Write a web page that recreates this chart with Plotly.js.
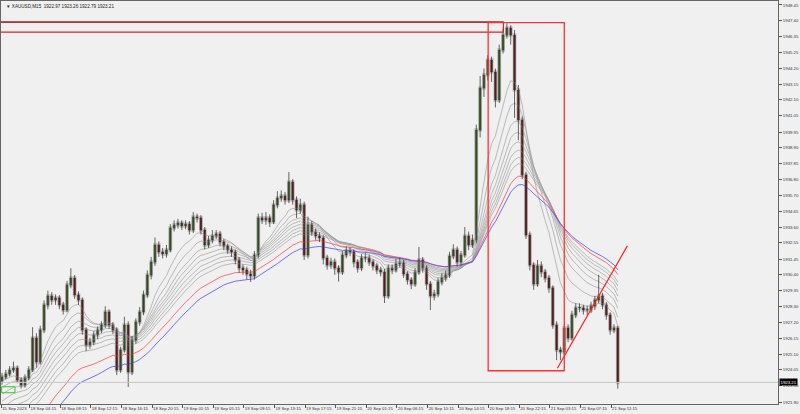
<!DOCTYPE html>
<html><head><meta charset="utf-8">
<script src="https://cdn.plot.ly/plotly-3.0.1.min.js"></script>
<style>html,body{margin:0;padding:0;background:#f0f0f0;}#chart{width:800px;height:414px;}</style>
</head><body><div id="chart"></div>
<script>
// ---- data (30-minute candles) ----
const symbolTitle = "XAUUSD,M15  1922.97 1923.26 1922.79 1923.21";
const opens = [1923.30,1923.57,1923.77,1924.04,1924.17,1923.37,1923.04,1923.51,1924.04,1926.18,
1924.58,1926.72,1928.39,1928.99,1928.72,1928.86,1928.39,1928.05,1929.73,1930.19,
1929.06,1928.72,1926.72,1925.71,1925.91,1926.38,1926.72,1927.05,1927.92,1927.05,
1926.72,1924.04,1925.38,1927.05,1923.91,1926.05,1927.25,1927.92,1929.06,1930.39,
1931.26,1932.40,1931.93,1931.80,1932.07,1933.54,1933.74,1933.87,1933.67,1933.80,
1933.40,1934.27,1934.21,1933.40,1932.40,1932.73,1933.00,1933.14,1932.60,1932.33,
1932.07,1931.93,1931.40,1930.86,1930.73,1930.46,1930.33,1931.73,1934.21,1934.07,
1934.21,1933.94,1935.08,1935.54,1935.68,1935.41,1936.61,1935.41,1934.74,1935.08,
1931.73,1933.74,1933.27,1933.00,1932.87,1931.53,1931.06,1931.26,1930.86,1930.59,
1931.73,1932.00,1931.93,1931.26,1930.86,1931.53,1931.53,1931.26,1931.00,1930.73,
1930.59,1928.99,1930.86,1930.73,1931.13,1931.20,1930.46,1930.06,1929.79,1930.59,
1931.40,1930.86,1929.79,1928.99,1929.12,1929.93,1930.19,1930.39,1931.66,1932.07,
1931.26,1931.73,1933.00,1932.40,1932.73,1940.09,1942.90,1943.77,1944.77,1943.97,
1942.10,1945.44,1946.44,1946.91,1946.44,1942.77,1940.76,1937.08,1933.07,1931.06,
1929.79,1931.00,1930.59,1930.19,1929.53,1927.05,1925.38,1925.25,1926.85,1926.18,
1927.72,1928.19,1928.19,1928.05,1928.05,1928.32,1928.72,1928.99,1928.39,1927.72,
1926.72,1926.85];
const closes = [1923.57,1923.77,1924.04,1924.17,1923.37,1923.04,1923.51,1924.04,1926.18,1924.58,
1926.72,1928.39,1928.99,1928.72,1928.86,1928.39,1928.05,1929.73,1930.19,1929.06,
1928.72,1926.72,1925.71,1925.91,1926.38,1926.72,1927.05,1927.92,1927.05,1926.72,
1924.04,1925.38,1927.05,1923.91,1926.05,1927.25,1927.92,1929.06,1930.39,1931.26,
1932.40,1931.93,1931.80,1932.07,1933.54,1933.74,1933.87,1933.67,1933.80,1933.40,
1934.27,1934.21,1933.40,1932.40,1932.73,1933.00,1933.14,1932.60,1932.33,1932.07,
1931.93,1931.40,1930.86,1930.73,1930.46,1930.33,1931.73,1934.21,1934.07,1934.21,
1933.94,1935.08,1935.54,1935.68,1935.41,1936.61,1935.41,1934.74,1935.08,1931.73,
1933.74,1933.27,1933.00,1932.87,1931.53,1931.06,1931.26,1930.86,1930.59,1931.73,
1932.00,1931.93,1931.26,1930.86,1931.53,1931.53,1931.26,1931.00,1930.73,1930.59,
1928.99,1930.86,1930.73,1931.13,1931.20,1930.46,1930.06,1929.79,1930.59,1931.40,
1930.86,1929.79,1928.99,1929.12,1929.93,1930.19,1930.39,1931.66,1932.07,1931.26,
1931.73,1933.00,1932.40,1932.73,1940.09,1942.90,1943.77,1944.77,1943.97,1942.10,
1945.44,1946.44,1946.91,1946.44,1942.77,1940.76,1937.08,1933.07,1931.06,1929.79,
1931.00,1930.59,1930.19,1929.53,1927.05,1925.38,1925.25,1926.85,1926.18,1927.72,
1928.19,1928.19,1928.05,1928.05,1928.32,1928.72,1928.99,1928.39,1927.72,1926.72,
1926.85,1923.21];
const highs = [1923.85,1924.05,1924.30,1924.60,1924.35,1923.55,1923.75,1924.30,1926.90,1926.50,
1927.00,1928.70,1929.35,1929.25,1929.10,1929.05,1928.60,1930.00,1930.85,1930.40,
1929.30,1928.90,1926.90,1926.20,1926.65,1926.95,1927.30,1928.30,1928.10,1927.25,
1926.90,1925.60,1927.60,1927.30,1926.30,1927.50,1928.25,1929.35,1930.70,1931.60,
1932.90,1932.65,1932.20,1932.40,1933.80,1934.05,1934.15,1934.05,1934.05,1934.00,
1934.60,1934.50,1934.40,1933.60,1933.00,1933.40,1933.40,1933.35,1932.80,1932.50,
1932.30,1932.10,1931.60,1931.10,1930.95,1930.75,1932.00,1934.50,1934.55,1934.60,
1934.45,1935.40,1936.00,1936.05,1935.95,1937.28,1936.80,1935.65,1935.50,1935.30,
1934.30,1934.00,1933.50,1933.25,1933.05,1931.75,1931.55,1931.50,1931.05,1932.00,
1932.30,1932.25,1932.10,1931.45,1931.80,1931.85,1931.75,1931.45,1931.20,1930.95,
1930.80,1931.10,1931.10,1931.45,1931.55,1931.40,1930.65,1930.25,1930.85,1932.27,
1931.60,1931.05,1930.00,1929.40,1930.20,1930.50,1930.70,1931.95,1932.45,1932.30,
1932.00,1933.60,1933.30,1933.10,1940.45,1943.70,1944.20,1945.10,1945.00,1944.20,
1945.80,1946.90,1947.23,1947.10,1946.78,1943.10,1941.00,1937.30,1933.30,1931.25,
1931.40,1931.30,1930.80,1930.40,1929.70,1927.30,1925.60,1927.10,1927.10,1928.00,
1928.50,1928.50,1928.40,1928.35,1928.60,1929.00,1930.40,1929.20,1928.60,1927.90,
1927.10,1927.00];
const lows = [1923.05,1923.40,1923.60,1923.85,1923.15,1922.80,1922.85,1923.35,1923.90,1924.20,
1924.40,1926.50,1928.10,1928.40,1928.40,1928.10,1927.75,1927.90,1929.50,1928.80,
1928.40,1926.40,1925.30,1925.45,1925.70,1926.10,1926.50,1926.85,1926.80,1926.45,
1923.70,1923.85,1925.20,1922.90,1923.70,1925.80,1927.00,1927.70,1928.85,1930.10,
1931.00,1931.60,1931.50,1931.55,1931.90,1933.30,1933.50,1933.40,1933.45,1933.10,
1933.20,1933.90,1933.10,1932.10,1932.20,1932.50,1932.80,1932.30,1932.05,1931.80,
1931.60,1931.10,1930.55,1930.40,1930.10,1929.93,1930.10,1931.50,1933.80,1933.75,
1933.60,1933.80,1934.85,1935.30,1935.10,1935.20,1935.10,1934.20,1934.50,1931.40,
1931.50,1933.00,1932.70,1932.60,1931.10,1930.75,1930.80,1930.40,1929.95,1930.40,
1931.50,1931.65,1930.90,1930.55,1930.65,1931.25,1931.00,1930.70,1930.45,1930.30,
1928.52,1928.80,1930.45,1930.55,1930.90,1930.20,1929.75,1929.45,1929.60,1930.40,
1930.55,1929.40,1928.05,1928.70,1928.90,1929.70,1929.95,1930.20,1931.45,1930.95,
1931.00,1931.55,1932.05,1932.20,1932.50,1939.60,1942.30,1943.40,1943.30,1941.60,
1941.90,1945.20,1946.20,1945.80,1940.90,1939.40,1936.80,1932.80,1930.70,1929.40,
1929.60,1930.25,1929.90,1929.20,1926.80,1924.70,1924.70,1925.05,1925.90,1926.00,
1927.50,1927.90,1927.75,1927.70,1927.85,1928.05,1928.50,1928.10,1927.40,1926.40,
1926.50,1922.79];
// moving-average ribbon: EMA periods (in 30-min bars) and their values just before the first bar
const maPeriods = [10, 14, 18, 21, 24, 27, 30, 33, 40, 46];
const maStart   = [1923.30, 1922.80, 1922.30, 1921.80, 1921.30, 1920.80, 1920.30, 1919.80, 1918.30, 1917.20];
const maNames   = ["MA 1","MA 2","MA 3","MA 4","MA 5","MA 6","MA 7","MA 8","MA red","MA blue"];
// time axis labels (every 4 hours = 8 thirty-minute bars)
const timeLabels = ["15 Sep 2023","18 Sep 04:15","18 Sep 08:15","18 Sep 12:15","18 Sep 16:15","18 Sep 20:15",
"19 Sep 01:15","19 Sep 05:15","19 Sep 09:15","19 Sep 13:15","19 Sep 17:15","19 Sep 21:15",
"20 Sep 01:15","20 Sep 06:15","20 Sep 10:15","20 Sep 14:15","20 Sep 18:15","20 Sep 22:15",
"21 Sep 03:15","21 Sep 07:15","21 Sep 11:15"];
const timeTickBars = [-0.2,7.22,15.22,23.22,31.22,39.22,47.22,55.22,63.22,71.22,79.22,87.22,
95.22,103.22,111.22,119.22,127.22,135.22,143.22,151.22,159.22];
const priceTicks = [1948.45,1947.40,1946.35,1945.25,1944.20,1943.15,1942.10,1941.05,1939.95,1938.90,
1937.85,1936.80,1935.70,1934.65,1933.60,1932.55,1931.45,1930.40,1929.35,1928.30,1927.20,1926.15,
1925.10,1924.05,1923.00,1921.90];
// drawn objects (bar index, price)
const topBox   = {x0: -2, x1: 131.1, y0: 1946.64, y1: 1947.31};
const bigBox   = {x0: 127.1, x1: 147.0, y0: 1923.99, y1: 1947.27};
const trendLn  = {x0: 145.2, x1: 163.5, y0: 1924.16, y1: 1932.34};
const greenBox = {x0: -0.1, x1: 3.4, y0: 1922.52, y1: 1922.92};

// ---- build traces ----
const n = closes.length;
const idx = closes.map((_, i) => i);
const bull = idx.filter(i => closes[i] >= opens[i]);
const bear = idx.filter(i => closes[i] < opens[i]);
const traces = [];

// EMA ribbon computed from closes
const maColors = ["#9a9a9a","#9a9a9a","#9a9a9a","#9a9a9a","#9a9a9a","#9a9a9a","#9a9a9a","#9a9a9a","#ff4d4d","#4d4dff"];
maPeriods.forEach((p, k) => {
  const a = 2 / (p + 1); let v = maStart[k]; const ys = [];
  for (let i = 0; i < n; i++) { v = v + a * (closes[i] - v); ys.push(v); }
  traces.push({type:"scatter", mode:"lines", x: idx, y: ys, name: maNames[k],
    line:{color: maColors[k], width: k < 8 ? 0.65 : 0.8}, hoverinfo:"skip"});
});

// gray shadow behind bodies
traces.push({type:"bar", x: idx, base: idx.map(i => Math.min(opens[i], closes[i]) - 0.12),
  y: idx.map(i => Math.abs(closes[i] - opens[i]) + 0.24), width: 1.0,
  marker:{color:"rgba(150,150,150,0.5)", line:{width:0}}, hoverinfo:"skip"});
// wicks
const wx = [], wy = [];
idx.forEach(i => { wx.push(i, i, null); wy.push(lows[i], highs[i], null); });
traces.push({type:"scatter", mode:"lines", x: wx, y: wy, line:{color:"#2a2a2a", width:0.7}, hoverinfo:"skip"});
// bodies
traces.push({type:"bar", x: bull, base: bull.map(i => opens[i]),
  y: bull.map(i => Math.max(closes[i] - opens[i], 0.04)), width: 0.5,
  marker:{color:"#4e7d26", line:{color:"#2a2a2a", width:0.4}}, hoverinfo:"skip"});
traces.push({type:"bar", x: bear, base: bear.map(i => closes[i]),
  y: bear.map(i => opens[i] - closes[i]), width: 0.5,
  marker:{color:"#8a1a1a", line:{color:"#2a2a2a", width:0.4}}, hoverinfo:"skip"});

const last = closes[n - 1];
const font = {family:"Liberation Sans, Arial, sans-serif", size:4.3, color:"#333"};
const layout = {
  width:800, height:414, showlegend:false, barmode:"overlay",
  paper_bgcolor:"#f0f0f0", plot_bgcolor:"#f0f0f0",
  margin:{l:1, r:22, t:1, b:10},
  font: font,
  xaxis:{range:[-0.26, 202.88], showgrid:false, zeroline:false, showline:true, mirror:true,
    linecolor:"#666", linewidth:1, ticks:"outside", ticklen:3, tickcolor:"#555",
    tickvals: timeTickBars, ticktext: timeLabels, tickangle:0,
    ticklabelposition:"outside right", tickfont: font, fixedrange:true},
  yaxis:{range:[1921.766, 1948.717], side:"right", showgrid:false, zeroline:false, showline:true, mirror:true,
    linecolor:"#666", linewidth:1, ticks:"outside", ticklen:3, tickcolor:"#555",
    tickvals: priceTicks, ticktext: priceTicks.map(v => v.toFixed(2)), tickfont: font, fixedrange:true},
  shapes:[
    {type:"line", xref:"paper", x0:0, x1:1, yref:"y", y0:last, y1:last, line:{color:"#c8c8c8", width:1}},
    {type:"rect", x0:topBox.x0, x1:topBox.x1, y0:topBox.y0, y1:topBox.y1, line:{color:"#e02020", width:1.2}},
    {type:"line", x0:topBox.x0, x1:topBox.x1, y0:topBox.y1, y1:topBox.y1, line:{color:"#5a1010", width:0.8}},
    {type:"rect", x0:bigBox.x0, x1:bigBox.x1, y0:bigBox.y0, y1:bigBox.y1, line:{color:"#ff3030", width:1.3}},
    {type:"line", x0:trendLn.x0, x1:trendLn.x1, y0:trendLn.y0, y1:trendLn.y1, line:{color:"#ff2020", width:1.2}},
    {type:"rect", x0:greenBox.x0, x1:greenBox.x1, y0:greenBox.y0, y1:greenBox.y1, line:{color:"#2ecc2e", width:1}}
  ],
  annotations:[
    {xref:"paper", yref:"paper", x:0.004, y:0.997, xanchor:"left", yanchor:"top", showarrow:false,
     text:"\u25BC " + symbolTitle, font:{family:font.family, size:4.6, color:"#222"}},
    {xref:"paper", yref:"y", x:1, y:last, xanchor:"left", yanchor:"middle", showarrow:false,
     text: last.toFixed(2), bgcolor:"#000", borderpad:0.5, xshift:1,
     font:{family:font.family, size:4.3, color:"#fff"}}
  ]
};
Plotly.newPlot("chart", traces, layout, {staticPlot:true, displayModeBar:false});
</script></body></html>
